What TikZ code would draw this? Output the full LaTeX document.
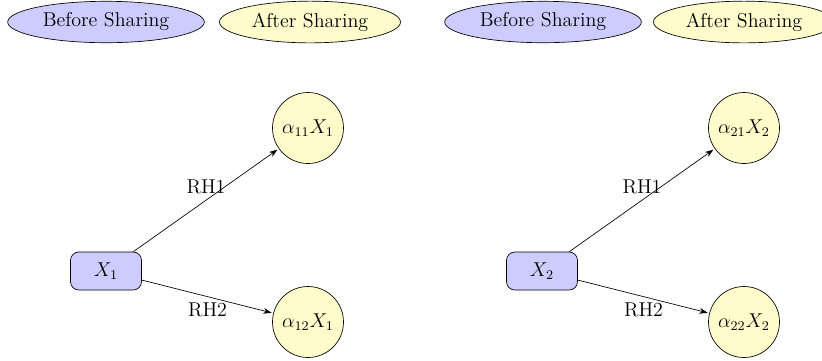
\documentclass[tikz,border=0pt]{standalone}
\usepackage{amsmath}
\usepackage{tikz}
\usetikzlibrary{positioning,shapes.geometric,arrows.meta}

\begin{document}
\begin{tikzpicture}[x=0.6pt, y=-0.6pt, node distance=1cm,
		legend/.style={draw, ellipse, minimum width=118pt, minimum height=23.4pt, font=\large},
		before/.style={fill=blue!20},
		after/.style={fill=yellow!20},
		var/.style={draw, rounded corners=5pt, fill=blue!20, minimum width=42.6pt, minimum height=22.8pt, font=\large},
		share/.style={draw, circle, fill=yellow!20, minimum size=42.6pt, inner sep=0pt, font=\large},
		every edge/.style={draw, -{Stealth[length=5pt,width=3.5pt]}, shorten >=1pt}]

	\useasboundingbox (0,0) rectangle (822,360);

	% legend
	\node[legend, before] (b1) at (106,22) {Before Sharing};
	\node[legend, after, minimum width=108.6pt] (a1) at (310,22) {After Sharing};
	\node[legend, before] (b2) at (543,22) {Before Sharing};
	\node[legend, after, minimum width=108.6pt] (a2) at (744,22) {After Sharing};

	% first variable
	\node[var] (x1) at (106,271) {$X_1$};
	\node[share, on grid, above right=85.8pt and 121.2pt of x1] (x11) {$\alpha_{11}X_1$};
	\node[share, on grid, below right=30.6pt and 121.2pt of x1] (x12) {$\alpha_{12}X_1$};

	\path (x1) edge node[above, pos=0.5, font=\large] {RH1} (x11);
	\path (x1) edge node[below, pos=0.5, font=\large] {RH2} (x12);

	% second variable
	\node[var, on grid, right=261.6pt of x1] (x2) {$X_2$};
	\node[share, on grid, above right=85.8pt and 121.2pt of x2] (x21) {$\alpha_{21}X_2$};
	\node[share, on grid, below right=30.6pt and 121.2pt of x2] (x22) {$\alpha_{22}X_2$};

	\path (x2) edge node[above, pos=0.5, font=\large] {RH1} (x21);
	\path (x2) edge node[below, pos=0.5, font=\large] {RH2} (x22);

\end{tikzpicture}
\end{document}
